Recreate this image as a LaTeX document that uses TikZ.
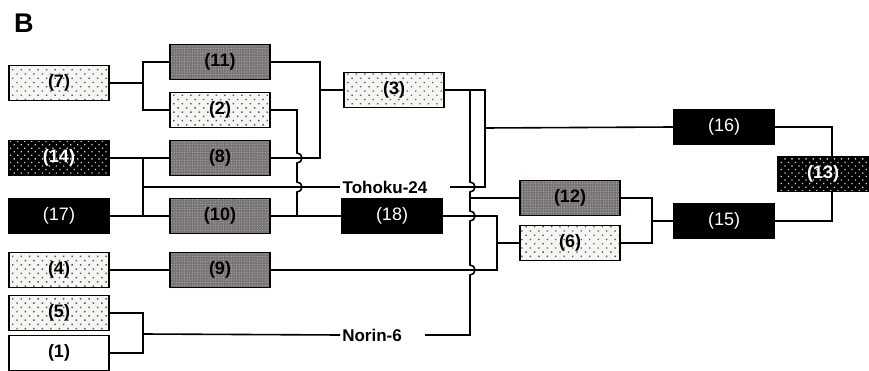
\documentclass[tikz,border=0pt]{standalone}
\usepackage{fontspec}
\setmainfont{Liberation Sans}
\usetikzlibrary{patterns.meta,calc}
\definecolor{cPaper}{RGB}{246,245,242}
\definecolor{cDot}{RGB}{90,90,90}
\definecolor{cMid}{RGB}{120,116,116}
\definecolor{cMesh}{RGB}{180,176,176}
\definecolor{cSpeck}{RGB}{215,215,215}

\tikzset{
  box/.style={draw=black,line width=1.6pt,minimum width=100pt,minimum height=35pt,
    inner sep=0pt,font=\fontsize{18}{20}\selectfont\bfseries},
  lightbox/.style={box,preaction={fill=cPaper},
    preaction={pattern={Dots[distance=6pt,radius=1pt,angle=45]},pattern color=cDot}},
  meshbox/.style={box,preaction={fill=cMid},
    preaction={pattern={Dots[distance=2.6pt,radius=0.6pt]},pattern color=cMesh}},
  darkbox/.style={box,text=white,preaction={fill=black},
    preaction={pattern={Dots[distance=5pt,radius=0.9pt,angle=45]},pattern color=cSpeck}},
  blackbox/.style={box,fill=black,text=white,font=\fontsize{18}{20}\selectfont},
  plainbox/.style={box,fill=white},
  cross/.style={font=\fontsize{17}{19}\selectfont\bfseries,inner sep=2pt},
  link/.style={line width=1.6pt},
}

\begin{document}
\begin{tikzpicture}[x=1pt,y=1pt]
  \useasboundingbox (0,0) rectangle (869,-371);
  \node[font=\fontsize{27}{30}\selectfont\bfseries,anchor=base west,inner sep=0pt] (lblB) at (14,-33) {B};

  % parents
  \node[lightbox] (n7)  at (59,-83)  {(7)};
  \node[darkbox]  (n14) at (59,-158) {(14)};
  \node[blackbox] (n17) at (59,-216) {(17)};
  \node[lightbox] (n4)  at (59,-270) {(4)};
  \node[lightbox] (n5)  at (59,-313) {(5)};
  \node[plainbox] (n1)  at (59,-353) {(1)};
  % first progeny
  \node[meshbox]  (n11) at (220,-62)  {(11)};
  \node[lightbox] (n2)  at (220,-110) {(2)};
  \node[meshbox]  (n8)  at (220,-158) {(8)};
  \node[meshbox]  (n10) at (220,-216) {(10)};
  \node[meshbox]  (n9)  at (220,-270) {(9)};
  % second progeny
  \node[lightbox] (n3)  at (394,-90)  {(3)};
  \node[blackbox] (n18) at (392,-216) {(18)};
  \node[cross] (toh) at (385,-187) {Tohoku-24};
  \node[cross] (nor) at (372,-335) {Norin-6};
  % right side
  \node[meshbox]  (n12) at (570,-198) {(12)};
  \node[lightbox] (n6)  at (570,-243) {(6)};
  \node[blackbox] (n16) at (724,-127) {(16)};
  \node[blackbox] (n15) at (724,-221) {(15)};
  \node[darkbox,minimum width=90pt] (n13) at (823,-174) {(13)};

  \coordinate (j7)   at (143,-83);
  \coordinate (j14)  at (143,-158);
  \coordinate (j17)  at (143,-216);
  \coordinate (jt)   at (143,-187);
  \coordinate (jn)   at (143,-334);
  \coordinate (j3)   at (320,-90);
  \coordinate (j16)  at (485,-128);
  \coordinate (tohr) at (450,-187);
  \coordinate (norr) at (425,-335);
  \coordinate (j6)   at (497,-243);
  \coordinate (j15)  at (652,-221);

  \draw[link] (n7.east) -- (j7);
  \draw[link] (n11.west) -| (j7) |- (n2.west);
  \draw[link] (n14.east) -- (n8.west);
  \draw[link] (n17.east) -- (n10.west);
  \draw[link] (j14) -- (j17);
  \draw[link] (jt) -- (toh.west);
  \draw[link] (n5.east) -| (jn) |- (n1.east);
  \draw[link] (jn) -- (nor.west);
  \draw[link] (n4.east) -- (n9.west);
  \draw[link] (n11.east) -| (j3) |- (n8.east);
  \draw[link] (j3) -- (n3.west);
  \draw[link] (n10.east) -- (n18.west);
  % (2) runs down to (18), hopping the two lines it meets
  \draw[link] (n2.east) -| (297,-153) arc[start angle=90,end angle=-90,radius=5]
    -- (297,-182) arc[start angle=90,end angle=-90,radius=5] |- (n18.west);
  \draw[link] (n3.east) -| (j16) |- (tohr);
  \draw[link] (j16) -- (n16.west);
  % (3) down to Norin-6
  \draw[link] (470,-90) -- (470,-182) arc[start angle=90,end angle=-90,radius=5]
    -- (470,-211) arc[start angle=90,end angle=-90,radius=5]
    -- (470,-265) arc[start angle=90,end angle=-90,radius=5]
    |- (norr);
  \draw[link] (470,-198) -- (n12.west);
  \draw[link] (n18.east) -| (j6) |- (n9.east);
  \draw[link] (j6) -- (n6.west);
  \draw[link] (n12.east) -| (j15) |- (n6.east);
  \draw[link] (j15) -- (n15.west);
  \draw[link] (n16.east) -| ([xshift=9pt]n13.north);
  \draw[link] (n15.east) -| ([xshift=9pt]n13.south);
\end{tikzpicture}
\end{document}
